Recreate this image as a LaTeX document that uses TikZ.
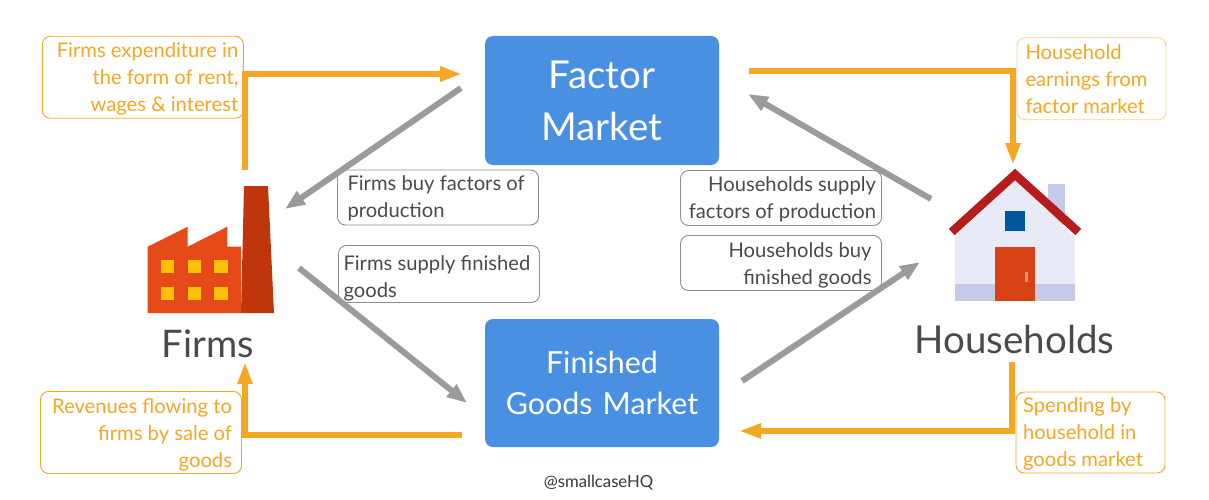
\documentclass[tikz,border=0pt]{standalone}
\usepackage{fontspec}
\setmainfont{Lato}
\usetikzlibrary{arrows.meta}
\definecolor{orangeA}{HTML}{F5A623}
\definecolor{orangeB}{HTML}{FAD38F}
\definecolor{blueA}{HTML}{4A90E2}
\definecolor{grayA}{HTML}{9B9B9B}
\definecolor{grayB}{HTML}{8E8E8E}
\definecolor{textA}{HTML}{4A4A4A}
\definecolor{facA}{HTML}{E64A19}
\definecolor{facB}{HTML}{BF360C}
\definecolor{facC}{HTML}{FFC107}
\definecolor{houA}{HTML}{E8EAF6}
\definecolor{houB}{HTML}{C5CAE9}
\definecolor{houC}{HTML}{B71C1C}
\definecolor{houD}{HTML}{01579B}
\definecolor{houE}{HTML}{D84315}
\definecolor{houF}{HTML}{FF8A65}
\tikzset{
  x=1pt,y=-1pt,
  market/.style={fill=blueA,rounded corners=8pt,minimum width=234pt,text width=234pt,inner sep=0pt,text=white,align=center},
  notebox/.style={draw,rounded corners=8pt,line width=0.9pt,inner ysep=0pt,font=\fontsize{20.2}{27}\selectfont},
  orangebox/.style={notebox,draw=orangeA,text=orangeA},
  graybox/.style={notebox,draw=grayB,text=textA},
  lowered/.style={execute at begin node={\rule{0pt}{#1pt}}},
  flowO/.style={draw=orangeA,line width=5.7pt,-{Triangle[length=22pt,width=14pt]}},
  flowG/.style={draw=grayA,line width=6pt,-{Triangle[length=20pt,width=15pt]}},
  bigname/.style={text=textA,inner sep=0pt}
}
\begin{document}
\begin{tikzpicture}
\useasboundingbox (0,0) rectangle (1209,500);
% market boxes
\node[market,minimum height=129pt,lowered=28,font=\fontsize{38.5}{52}\selectfont] (factor) at (602,100.5) {Factor\\Market};
\node[market,minimum height=128pt,font=\fontsize{30.4}{41}\selectfont] (goods) at (602,383) {Finished\\Goods Market};
% note boxes
\node[orangebox,inner xsep=5pt,text width=191pt,minimum height=82pt,lowered=19,align=flush right] (n1) at (142.8,77.3) {Firms expenditure in\\the form of rent,\\wages \& interest};
\node[orangebox,draw=orangeB,inner xsep=8.5pt,text width=132pt,minimum height=82pt,align=flush left] (n2) at (1091.5,78.8) {Household\\earnings from\\factor market};
\node[orangebox,inner xsep=9.5pt,text width=182pt,minimum height=82pt,lowered=19,align=flush right] (n3) at (141,432.5) {Revenues flowing to\\firms by sale of\\goods};
\node[orangebox,inner xsep=7pt,text width=135pt,minimum height=81pt,lowered=17,align=flush left] (n4) at (1090.5,432.5) {Spending by\\household in\\goods market};
\node[graybox,inner xsep=10pt,text width=181pt,minimum height=55pt,lowered=17,align=flush left] (n5) at (438,197.5) {Firms buy factors of\\production};
\node[graybox,inner xsep=5pt,text width=191pt,minimum height=57pt,lowered=24,align=flush left] (n6) at (439,274) {Firms supply finished\\goods};
\node[graybox,inner xsep=5.5pt,text width=190pt,minimum height=55pt,lowered=18,align=flush right] (n7) at (781,198) {Households supply\\factors of production};
\node[graybox,inner xsep=10pt,text width=181pt,minimum height=55pt,lowered=19,align=flush right] (n8) at (781,263) {Households buy\\finished goods};
% factory icon
\fill[facA] (147.7,313) -- (147.7,246.7) -- (187.7,226.7) -- (187.7,246.7) -- (227.3,226.7) -- (227.3,246.7) -- (241,246.7) -- (241,313) -- cycle;
\fill[facB] (241,313) -- (244,186) -- (268,186) -- (274,313) -- cycle;
\foreach \wx in {161,187.7,214.3}\foreach \wy in {260,286.7}
  \fill[facC] (\wx,\wy) rectangle +(13.4,13.4);
% house icon
\fill[houB] (1048.3,184) rectangle (1065,225);
\fill[houA] (955,300.7) -- (955,237) -- (1015,180) -- (1075,237) -- (1075,300.7) -- cycle;
\fill[houB] (955,284) rectangle (1075,300.7);
\draw[houC,line width=8.5pt,line join=miter] (951.7,232) -- (1015,174.5) -- (1078.3,232);
\fill[houD] (1005,210.7) rectangle (1025,230.7);
\fill[houE] (995,247.3) rectangle (1035,300.7);
\fill[houF] (1025,272) rectangle (1028.3,282);
% names
\node[bigname,font=\fontsize{38}{44}\selectfont] (firms) at (208,344) {Firms};
\node[bigname,font=\fontsize{38.5}{44}\selectfont] (households) at (1014.5,339) {Households};
\node[inner sep=0pt,text=textA!75!black,font=\fontsize{16.7}{20}\selectfont] (handle) at (598.5,483) {@smallcaseHQ};
% free ends
\coordinate (o1a) at (245,170); \coordinate (o1b) at (245,74); \coordinate (o1c) at (462,74);
\coordinate (o2a) at (749,71); \coordinate (o2b) at (1013,71); \coordinate (o2c) at (1013,165);
\coordinate (o3a) at (1012,362); \coordinate (o3b) at (1012,431); \coordinate (o3c) at (739,431);
\coordinate (o4a) at (462,435); \coordinate (o4b) at (245,435); \coordinate (o4c) at (245,362);
\coordinate (g1a) at (461,88); \coordinate (g1b) at (285,209);
\coordinate (g2a) at (931,199); \coordinate (g2b) at (748,94);
\coordinate (g3a) at (299,268); \coordinate (g3b) at (467,403);
\coordinate (g4a) at (742,381); \coordinate (g4b) at (920,262);
% connectors
\draw[flowO] (o1a) -- (o1b) -- (o1c);
\draw[flowO] (o2a) -- (o2b) -- (o2c);
\draw[flowO] (o3a) -- (o3b) -- (o3c);
\draw[flowO] (o4a) -- (o4b) -- (o4c);
\draw[flowG] (g1a) -- (g1b);
\draw[flowG] (g2a) -- (g2b);
\draw[flowG] (g3a) -- (g3b);
\draw[flowG] (g4a) -- (g4b);
\end{tikzpicture}
\end{document}
